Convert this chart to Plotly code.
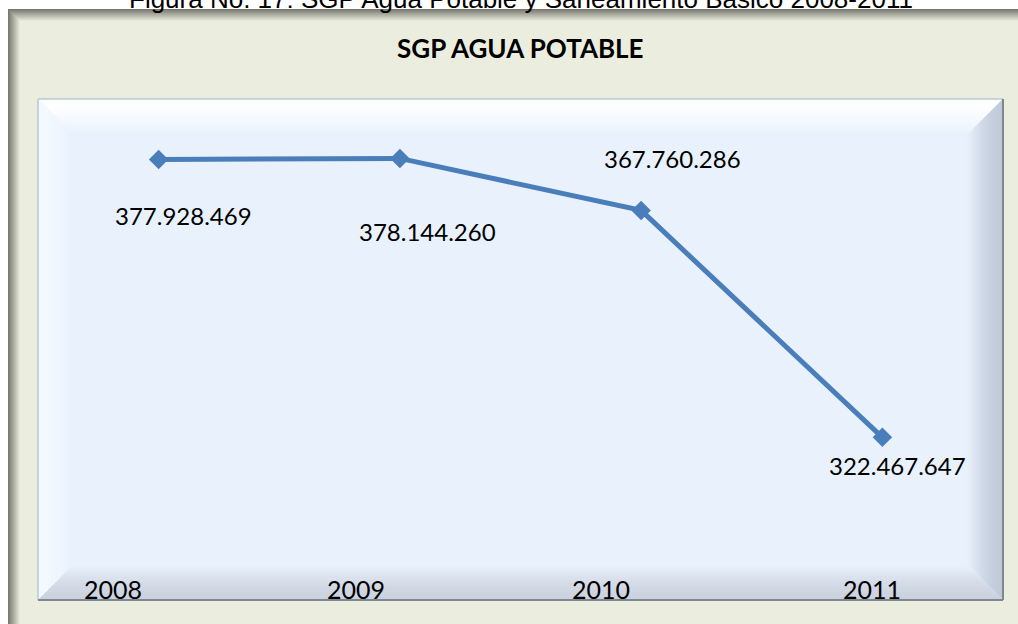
import plotly.graph_objects as go

# Data
years = ['2008', '2009', '2010', '2011']
values = [377928469, 378144260, 367760286, 322467647]
value_labels = ['377.928.469', '378.144.260', '367.760.286', '322.467.647']

caption = 'Figura No. 17: SGP Agua Potable y Saneamiento Básico 2008-2011'
title = 'SGP AGUA POTABLE'

# Canvas / plot area geometry (pixels)
W, H = 1018, 624
L, R, T, B = 38, 1003, 99, 600
PW, PH = R - L, B - T


def px(x):
    return (x - L) / PW


def py(y):
    return (B - y) / PH


def mix(c1, c2, t):
    a = [int(c1[i:i + 2], 16) for i in (1, 3, 5)]
    b = [int(c2[i:i + 2], 16) for i in (1, 3, 5)]
    return 'rgb(%d,%d,%d)' % tuple(round(a[i] + (b[i] - a[i]) * t) for i in range(3))


def poly(pts, color):
    d = 'M ' + ' L '.join('%f,%f' % (px(x), py(y)) for x, y in pts) + ' Z'
    return dict(type='path', xref='paper', yref='paper', path=d,
                fillcolor=color, line=dict(width=0), layer='below')


BEIGE = '#EBEEDE'
BASE = '#E9F2FC'
shapes = []

# outer frame + shadow
shapes.append(poly([(8, 9), (1040, 9), (1040, 650), (8, 650)], BEIGE))
n = 12
for k in range(n):
    c = mix('#74746C', BEIGE, (k + 0.5) / n)
    shapes.append(poly([(8 + k, 9 + k), (1040, 9 + k), (1040, 10 + k), (9 + k, 10 + k),
                        (9 + k, 650), (8 + k, 650)], c))

# plot area base
shapes.append(poly([(L, T), (R, T), (R, B), (L, B)], BASE))

# bevels (gradient strips)
bev = {'top': (34, '#FFFFFF'), 'left': (33, '#F3FAFF'),
       'right': (36, '#C0C9D8'), 'bottom': (34, '#CBD1DD')}
n = 24
for side, (w, col) in bev.items():
    for k in range(n):
        d0, d1 = w * k / n, w * (k + 1) / n + 0.6
        t = ((k + 0.5) / n) ** 1.6
        c = mix(col, BASE, t)
        if side == 'top':
            pts = [(L + d0, T + d0), (R - d0, T + d0), (R - d1, T + d1), (L + d1, T + d1)]
        elif side == 'bottom':
            pts = [(L + d0, B - d0), (R - d0, B - d0), (R - d1, B - d1), (L + d1, B - d1)]
        elif side == 'left':
            pts = [(L + d0, T + d0), (L + d1, T + d1), (L + d1, B - d1), (L + d0, B - d0)]
        else:
            pts = [(R - d0, T + d0), (R - d1, T + d1), (R - d1, B - d1), (R - d0, B - d0)]
        shapes.append(poly(pts, c))

# plot area border
shapes.append(dict(type='line', xref='paper', yref='paper', x0=0, x1=1, y0=1, y1=1,
                   line=dict(color='#B8C7D8', width=1.5), layer='below'))
shapes.append(dict(type='line', xref='paper', yref='paper', x0=0, x1=0, y0=0, y1=1,
                   line=dict(color='#B8C7D8', width=1.5), layer='below'))
shapes.append(dict(type='line', xref='paper', yref='paper', x0=1, x1=1, y0=0, y1=1,
                   line=dict(color='#7F8792', width=2), layer='below'))
shapes.append(dict(type='line', xref='paper', yref='paper', x0=0, x1=1, y0=0, y1=0,
                   line=dict(color='#7F8792', width=2), layer='below'))

fig = go.Figure()
fig.add_trace(go.Scatter(
    x=years, y=values, mode='lines+markers',
    line=dict(color='#4A7EBB', width=5),
    marker=dict(symbol='diamond', size=15, color='#4A7EBB'),
    hoverinfo='x+y', showlegend=False,
))

annotations = []
# caption (cut at the top of the page, as in the source)
annotations.append(dict(text=caption, xref='paper', yref='paper', x=px(521), y=py(-1),
                        showarrow=False, xanchor='center', yanchor='middle',
                        font=dict(family='Liberation Sans, Arial', size=26, color='#000000')))
# chart title
annotations.append(dict(text='<b>' + title + '</b>', xref='paper', yref='paper', x=px(520), y=py(48),
                        showarrow=False, xanchor='center', yanchor='middle',
                        font=dict(family='Lato', size=26, color='#000000')))

# data labels
label_shift = [(25, -56), (28, -73), (31, 52), (15, -28)]
for i, (v, lab, (dx, dy)) in enumerate(zip(values, value_labels, label_shift)):
    annotations.append(dict(text=lab, x=i, y=v, xref='x', yref='y', showarrow=False,
                            xshift=dx, yshift=dy, font=dict(family='Lato', size=24, color='#000000')))

# category labels inside the plot area bottom
tick_shift = [-46, -44, -40, -10]
for i, (yr, dx) in enumerate(zip(years, tick_shift)):
    annotations.append(dict(text=yr, x=i, xref='x', yref='paper', y=py(589), showarrow=False,
                            xshift=dx, yanchor='middle',
                            font=dict(family='Lato', size=25, color='#000000')))

fig.update_layout(
    width=W, height=H,
    margin=dict(l=L, r=W - R, t=T, b=H - B, pad=0),
    paper_bgcolor='#FFFFFF',
    plot_bgcolor='rgba(0,0,0,0)',
    shapes=shapes,
    annotations=annotations,
    xaxis=dict(type='category', range=[-0.5, 3.5], showgrid=False, zeroline=False,
               showticklabels=False, showline=False, ticks=''),
    yaxis=dict(range=[290e6, 390e6], showgrid=False, zeroline=False, showticklabels=False,
               showline=False, ticks=''),
)

fig.write_html('out.html', config={'displayModeBar': False},
               post_script="document.body.style.margin='0';"
                           "document.body.style.overflow='hidden';")
